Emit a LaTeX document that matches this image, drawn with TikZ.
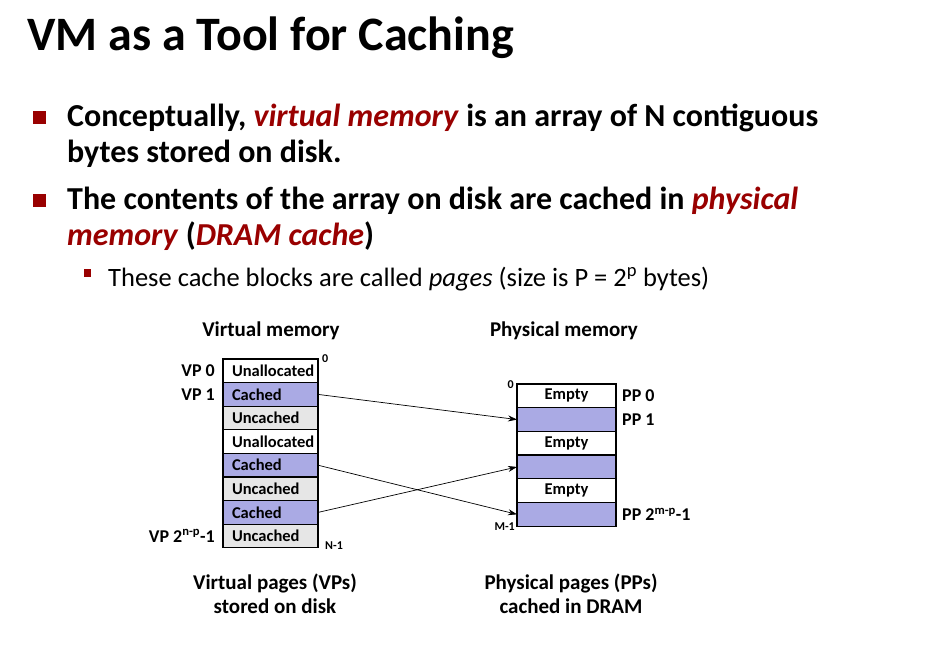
\documentclass[tikz,border=0pt]{standalone}
\usepackage{fontspec}
\setmainfont{Carlito}
\usepackage{xcolor}
\usepackage{tikz}
\usetikzlibrary{arrows.meta, positioning, calc}
\definecolor{vmred}{RGB}{153,0,0}
\definecolor{cachedblue}{RGB}{170,170,228}
\definecolor{uncachedgray}{RGB}{230,230,230}
\tikzset{
  vcell/.style={rectangle, draw=black, line width=1.3pt, minimum height=23.6pt, text width=77pt, inner xsep=9pt, inner ysep=0pt, align=left, outer sep=0pt, font=\bfseries\fontsize{16.5}{18}\selectfont},
  pcell/.style={rectangle, draw=black, line width=1.3pt, minimum height=23.7pt, text width=87pt, inner xsep=6pt, inner ysep=0pt, align=center, outer sep=0pt, font=\bfseries\fontsize{16.5}{18}\selectfont},
  cached/.style={fill=cachedblue},
  uncached/.style={fill=uncachedgray},
  empty/.style={fill=white},
  pagelabel/.style={font=\bfseries\fontsize{18}{20}\selectfont, inner sep=0pt},
  addrlabel/.style={font=\bfseries\fontsize{12}{14}\selectfont, inner sep=0pt},
  heading/.style={font=\bfseries\fontsize{21}{23}\selectfont, anchor=base, inner sep=0pt},
  bullettext/.style={anchor=base west, inner sep=0pt, font=\bfseries\fontsize{32}{34}\selectfont},
  bulletbox/.style={fill=vmred, draw=none, minimum size=13pt, inner sep=0pt},
  maparrow/.style={line width=0.7pt, -{Stealth[length=9pt, width=6pt]}}
}

\begin{document}
\begin{tikzpicture}[x=1pt, y=-1pt]
\useasboundingbox[fill=white] (0,0) rectangle (926,648);

% Title and bullets
\node[anchor=base west, inner sep=0pt, font=\bfseries\fontsize{48}{52}\selectfont] (title) at (27,50) {VM as a Tool for Caching};

\node[bulletbox] (b1) at (39.5,117) {};
\node[bullettext] (b1a) at (67,126) {Conceptually, \textcolor{vmred}{\textit{virtual memory}} is an array of N contiguous};
\node[bullettext] (b1b) at (67,162) {bytes stored on disk.};

\node[bulletbox] (b2) at (39.5,200) {};
\node[bullettext] (b2a) at (67,209) {The contents of the array on disk are cached in \textcolor{vmred}{\textit{physical}}};
\node[bullettext] (b2b) at (67,245) {\textcolor{vmred}{\textit{memory}} (\textcolor{vmred}{\textit{DRAM cache}})};

\node[fill=vmred, minimum width=7pt, minimum height=8pt, inner sep=0pt] (b3) at (87,273) {};
\node[anchor=base west, inner sep=0pt, font=\fontsize{26.5}{28}\selectfont] (b3a) at (108,286) {These cache blocks are called \textit{pages} (size is P = 2\textsuperscript{p} bytes)};

% Virtual memory column
\node[heading] (vhead) at (271,336) {Virtual memory};
\node[vcell, empty, anchor=north west] (v0) at (223,359) {Unallocated};
\node[vcell, cached, below=0pt of v0] (v1) {Cached};
\node[vcell, uncached, below=0pt of v1] (v2) {Uncached};
\node[vcell, empty, below=0pt of v2] (v3) {Unallocated};
\node[vcell, cached, below=0pt of v3] (v4) {Cached};
\node[vcell, uncached, below=0pt of v4] (v5) {Uncached};
\node[vcell, cached, below=0pt of v5] (v6) {Cached};
\node[vcell, uncached, below=0pt of v6] (v7) {Uncached};

\node[pagelabel, left=8pt of v0] (vp0) {VP 0};
\node[pagelabel, left=8pt of v1] (vp1) {VP 1};
\node[pagelabel, left=8pt of v7] (vpn) {VP 2\textsuperscript{n-p}-1};
\node[addrlabel, anchor=south west] (vtop) at ($(v0.north east)+(4pt,-4pt)$) {0};
\node[addrlabel, anchor=north west] (vbot) at ($(v7.south east)+(7pt,6pt)$) {N-1};

% Physical memory column
\node[heading] (phead) at (564,336) {Physical memory};
\node[pcell, empty, anchor=north west] (p0) at (517,384) {Empty};
\node[pcell, cached, below=0pt of p0] (p1) {};
\node[pcell, empty, below=0pt of p1] (p2) {Empty};
\node[pcell, cached, below=0pt of p2] (p3) {};
\node[pcell, empty, below=0pt of p3] (p4) {Empty};
\node[pcell, cached, below=0pt of p4] (p5) {};

\node[pagelabel, right=6pt of p0] (pp0) {PP 0};
\node[pagelabel, right=6pt of p1] (pp1) {PP 1};
\node[pagelabel, right=6pt of p5] (ppm) {PP 2\textsuperscript{m-p}-1};
\node[addrlabel, anchor=south east] (ptop) at ($(p0.north west)+(-3pt,-5pt)$) {0};
\node[addrlabel, anchor=north east] (pbot) at ($(p5.south west)+(-2pt,4pt)$) {M-1};

% Mapping
\draw[maparrow] (v1.east) -- (p1.west);
\draw[maparrow] (v4.east) -- (p5.west);
\draw[maparrow] (v6.east) -- (p3.west);

% Captions
\node[heading] (vcap1) at (275,589) {Virtual pages (VPs)};
\node[heading] (vcap2) at (275,613) {stored on disk};
\node[heading] (pcap1) at (571,589) {Physical pages (PPs)};
\node[heading] (pcap2) at (571,613) {cached in DRAM};
\end{tikzpicture}
\end{document}
